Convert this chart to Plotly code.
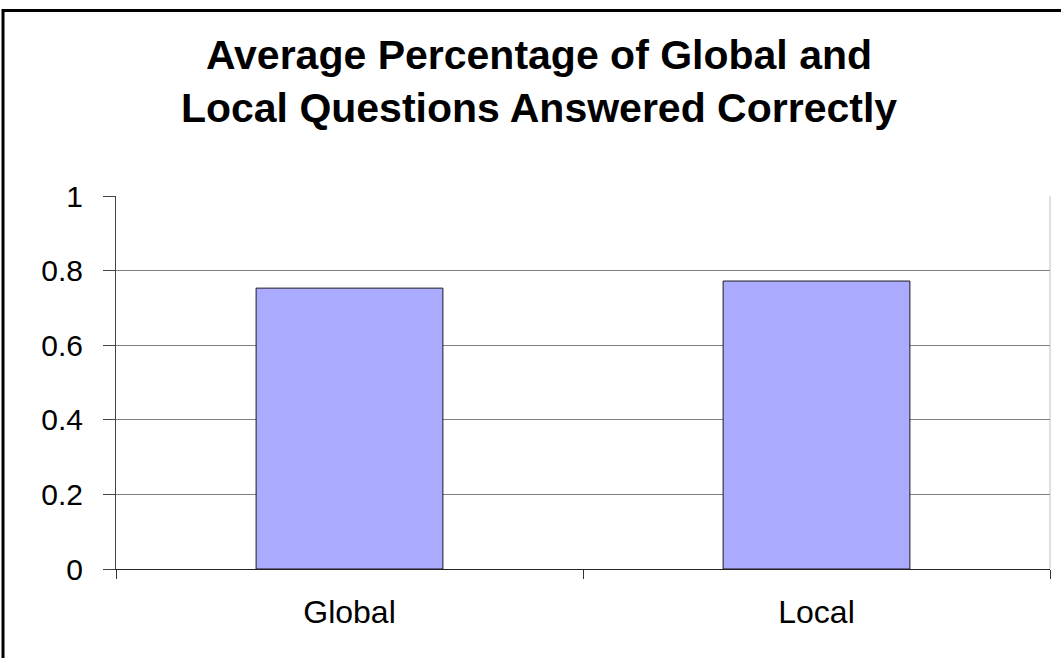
import plotly.graph_objects as go

# Data
categories = ["Global", "Local"]
avg_correct = [0.753, 0.772]
y_ticks = [0, 0.2, 0.4, 0.6, 0.8, 1]
y_tick_labels = ["0", "0.2", "0.4", "0.6", "0.8", "1"]
title_lines = ["Average Percentage of Global and", "Local Questions Answered Correctly"]

FONT = "Liberation Sans, Arial, sans-serif"

W, H = 1061, 658
L, R, T, B = 116, 11, 196, 89

fig = go.Figure(
    go.Bar(
        x=categories,
        y=avg_correct,
        width=0.4,
        marker=dict(color="#AAAAFF", line=dict(color="#1a1a1a", width=1)),
        hoverinfo="x+y",
    )
)

fig.update_layout(
    width=W,
    height=H,
    margin=dict(l=L, r=R, t=T, b=B, pad=0),
    paper_bgcolor="white",
    plot_bgcolor="white",
    showlegend=False,
    font=dict(family=FONT, color="black"),
    title=dict(
        text="<b>" + "<br>".join(title_lines) + "</b>",
        font=dict(family=FONT, size=41, color="black"),
        x=539 / W,
        xanchor="center",
        xref="container",
        y=1 - 69 / H,
        yanchor="middle",
        yref="container",
    ),
    bargap=0.6,
)

fig.update_xaxes(
    type="category",
    tickson="boundaries",
    ticks="outside",
    ticklen=9,
    tickwidth=1,
    tickcolor="#333333",
    showline=True,
    linecolor="#222222",
    linewidth=1,
    showgrid=False,
    tickfont=dict(family=FONT, size=32, color="black"),
    ticklabelstandoff=15,
    fixedrange=True,
)

fig.update_yaxes(
    range=[0, 1],
    tickvals=y_ticks,
    ticktext=y_tick_labels,
    ticks="outside",
    ticklen=12,
    tickwidth=1,
    tickcolor="#444444",
    showline=True,
    linecolor="#444444",
    linewidth=1,
    showgrid=True,
    gridcolor="#808080",
    gridwidth=1,
    zeroline=False,
    tickfont=dict(family=FONT, size=30, color="black"),
    ticklabelstandoff=14,
    fixedrange=True,
)

# Light plot-area frame on the right side
fig.add_shape(
    type="line", xref="paper", yref="paper",
    x0=1, x1=1, y0=0, y1=1,
    line=dict(color="#c0c0c0", width=1),
    layer="below",
)

# Outer chart border (black frame running off the right and bottom edges)
fig.add_shape(
    type="rect", xref="paper", yref="paper",
    x0=(3 - L) / (W - L - R),
    x1=1.2,
    y0=-0.5,
    y1=(H - B - 10.5) / (H - T - B),
    line=dict(color="black", width=3),
    fillcolor="rgba(0,0,0,0)",
    layer="above",
)

fig.write_html("out.html")
